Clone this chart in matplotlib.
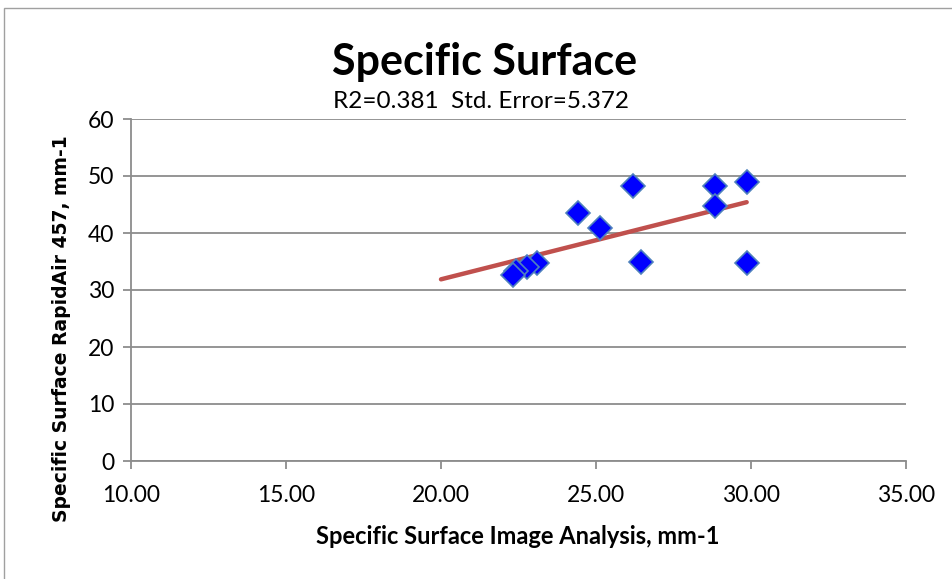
import numpy as np
import matplotlib
matplotlib.use("Agg")
import matplotlib.pyplot as plt
from matplotlib.patches import Rectangle

plt.rcParams["font.family"] = ["Lato", "DejaVu Sans"]

# values
image_analysis = [26.20, 28.84, 29.86, 28.84, 24.41, 25.13, 26.44, 29.86, 23.11, 22.76, 22.42, 22.31]
rapidair = [48.2, 48.2, 49.0, 44.7, 43.5, 40.8, 35.0, 34.7, 34.7, 34.1, 33.3, 32.6]
trend_start = 20.0
x_ticks = [10, 15, 20, 25, 30, 35]
y_ticks = [0, 10, 20, 30, 40, 50, 60]

fig = plt.figure(figsize=(9.53, 5.79), dpi=100)
fig.patches.append(Rectangle((4 / 953, -0.1), 1.2, (579 - 8) / 579 + 0.1,
                             transform=fig.transFigure, fill=False,
                             edgecolor="#a0a0a0", linewidth=1.0))

ax = fig.add_axes([131 / 953, 1 - 461 / 579, 775 / 953, 342 / 579])

# linear trendline, extended back to 20
slope, intercept = np.polyfit(image_analysis, rapidair, 1)
tx = np.array([trend_start, max(image_analysis)])
ax.plot(tx, slope * tx + intercept, color="#C0504D", linewidth=3.2,
        solid_capstyle="round", zorder=3)

ax.plot(image_analysis, rapidair, linestyle="none", marker="D", markersize=12,
        markerfacecolor="#0000FF", markeredgecolor="#4F81BD",
        markeredgewidth=1.2, zorder=4)

ax.set_xlim(10, 35)
ax.set_ylim(0, 60)
ax.set_xticks(x_ticks)
ax.set_xticklabels([f"{v:.2f}" for v in x_ticks])
ax.set_yticks(y_ticks)
ax.grid(axis="y", color="#8c8c8c", linewidth=1.3)
ax.set_axisbelow(True)
for side in ("top", "right"):
    ax.spines[side].set_visible(False)
for side in ("left", "bottom"):
    ax.spines[side].set_color("#8c8c8c")
    ax.spines[side].set_linewidth(1.3)
ax.tick_params(axis="both", direction="out", length=6, width=1.3,
               color="#8c8c8c", labelsize=16.5)
ax.tick_params(axis="x", pad=11)
ax.tick_params(axis="y", pad=6)

fig.text(518 / 953, 1 - 537 / 579, "Specific Surface Image Analysis, mm-1",
         ha="center", va="center", fontsize=17, fontweight="bold")
fig.text(62 / 953, 1 - 329 / 579, "Specific Surface RapidAir 457, mm-1",
         ha="center", va="center", rotation=90, fontsize=13.5,
         fontweight="bold", family="DejaVu Sans")

fig.text(485 / 953, 1 - 62 / 579, "Specific Surface", ha="center", va="center",
         fontsize=31, fontweight="bold")
fig.text(481 / 953, 1 - 101 / 579, "R2=0.381  Std. Error=5.372", ha="center",
         va="center", fontsize=17.5)

fig.savefig("out.png", dpi=100, facecolor="white")
